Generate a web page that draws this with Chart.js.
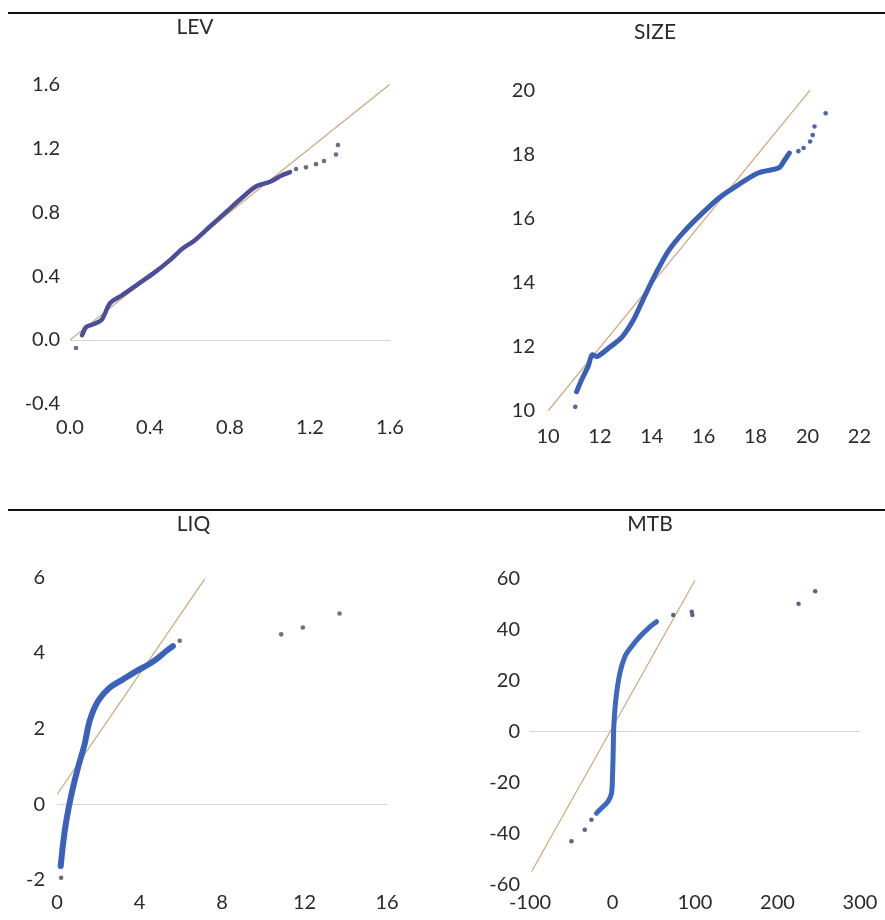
<!DOCTYPE html>
<html>
<head>
<meta charset="utf-8">
<script src="https://cdn.jsdelivr.net/npm/chart.js@4.4.1/dist/chart.umd.min.js"></script>
<style>
body { margin: 0; background: #fff; width: 885px; height: 920px; position: relative; overflow: hidden; }
.rule { position: absolute; left: 8px; width: 877px; height: 2px; background: #111; }
.panel { position: absolute; }
</style>
</head>
<body>
<div class="rule" style="top:12px"></div>
<div class="rule" style="top:509px"></div>
<div class="panel" style="left:0;top:15px;width:440px;height:445px"><canvas id="levChart"></canvas></div>
<div class="panel" style="left:440px;top:15px;width:445px;height:445px"><canvas id="sizeChart"></canvas></div>
<div class="panel" style="left:0;top:512px;width:440px;height:408px"><canvas id="liqChart"></canvas></div>
<div class="panel" style="left:440px;top:512px;width:445px;height:408px"><canvas id="mtbChart"></canvas></div>
<script>
// LEV
const levBodyX = [0.06, 0.08, 0.12, 0.16, 0.2, 0.26, 0.34, 0.42, 0.5, 0.56, 0.62, 0.7, 0.78, 0.86, 0.93, 1.0, 1.06, 1.1];
const levBodyY = [0.03, 0.08, 0.10, 0.13, 0.23, 0.28, 0.35, 0.42, 0.50, 0.57, 0.62, 0.71, 0.80, 0.89, 0.96, 0.99, 1.03, 1.05];
const levTailX = [0.03, 1.13, 1.18, 1.23, 1.27, 1.33, 1.34];
const levTailY = [-0.05, 1.07, 1.08, 1.10, 1.12, 1.16, 1.22];
const levRefX = [0, 1.6];
const levRefY = [0, 1.6];
const levXTicks = [0, 0.4, 0.8, 1.2, 1.6];
const levYTicks = [-0.4, 0, 0.4, 0.8, 1.2, 1.6];

// SIZE
const sizeBodyX = [11.1, 11.3, 11.55, 11.7, 11.9, 12.4, 12.85, 13.3, 13.65, 14.15, 14.65, 15.25, 15.9, 16.6, 17.35, 18.1, 18.9, 19.1, 19.3];
const sizeBodyY = [10.6, 10.98, 11.4, 11.75, 11.7, 12.0, 12.3, 12.85, 13.45, 14.28, 15.0, 15.6, 16.13, 16.65, 17.06, 17.42, 17.58, 17.8, 18.04];
const sizeTailX = [11.05, 19.65, 19.85, 20.1, 20.2, 20.27, 20.7];
const sizeTailY = [10.13, 18.1, 18.2, 18.4, 18.6, 18.87, 19.28];
const sizeRefX = [10, 20.2];
const sizeRefY = [10, 20.1];
const sizeXTicks = [10, 12, 14, 16, 18, 20, 22];
const sizeYTicks = [10, 12, 14, 16, 18, 20];

// LIQ
const liqBodyX = [0.18, 0.29, 0.45, 0.7, 1.02, 1.34, 1.58, 1.99, 2.55, 3.2, 3.85, 4.33, 4.81, 5.3, 5.62];
const liqBodyY = [-1.63, -1.06, -0.44, 0.26, 0.97, 1.59, 2.2, 2.73, 3.08, 3.3, 3.52, 3.66, 3.83, 4.05, 4.18];
const liqTailX = [0.2, 5.95, 10.87, 11.92, 13.7];
const liqTailY = [-1.94, 4.32, 4.49, 4.67, 5.04];
const liqRefX = [0, 7.16];
const liqRefY = [0.26, 5.95];
const liqXTicks = [0, 4, 8, 12, 16];
const liqYTicks = [-2, 0, 2, 4, 6];

// MTB
const mtbBodyX = [-19.4, -11.3, -5.3, -1.2, 0, 0.8, 1.6, 4, 8.9, 15, 23, 33, 45.3, 53.4];
const mtbBodyY = [-31.9, -29.3, -27.3, -24.1, -17.6, -8.5, 2, 12.4, 22.8, 29.3, 33.2, 37.1, 41, 43];
const mtbTailX = [-49.8, -33.6, -25.5, 73.7, 96, 96.8, 225.5, 245.7];
const mtbTailY = [-42.9, -38.4, -34.5, 45.6, 46.9, 45.6, 50, 54.9];
const mtbRefX = [-98, 100];
const mtbRefY = [-54.7, 59.2];
const mtbXTicks = [-100, 0, 100, 200, 300];
const mtbYTicks = [-60, -40, -20, 0, 20, 40, 60];

const tickFont = { family: 'Lato', size: 20 };
const refColor = 'rgba(196, 150, 95, 0.85)';

function pairs(xs, ys) {
    return xs.map((x, i) => ({ x: x, y: ys[i] }));
}

function qqChart(id, o) {
    return new Chart(document.getElementById(id), {
        type: 'scatter',
        data: {
            datasets: [
                { data: pairs(o.refX, o.refY), showLine: true, borderColor: refColor, borderWidth: 1.2, pointRadius: 0, order: 3 },
                { data: pairs(o.bodyX, o.bodyY), showLine: true, borderColor: o.color, borderWidth: o.width, pointRadius: 0,
                  tension: 0.3, borderCapStyle: 'round', borderJoinStyle: 'round', order: 2 },
                { data: pairs(o.tailX, o.tailY), pointRadius: 2.3, backgroundColor: o.tailColor, borderWidth: 0, order: 1 }
            ]
        },
        options: {
            responsive: true,
            maintainAspectRatio: false,
            animation: false,
            layout: { padding: { left: 0, right: o.padRight, top: 0, bottom: 0 } },
            plugins: {
                legend: { display: false },
                tooltip: { enabled: false },
                title: {
                    display: true, text: o.title, color: '#2a2a2a',
                    font: { family: 'Lato', size: 21, weight: 'normal' },
                    padding: { top: o.titleTop, bottom: o.titleBottom }
                }
            },
            scales: {
                x: {
                    type: 'linear', min: o.xTicks[0], max: o.xTicks[o.xTicks.length - 1],
                    afterBuildTicks: s => { s.ticks = o.xTicks.map(v => ({ value: v })); },
                    afterFit: s => { s.height = o.xAxisH; },
                    grid: { display: false, drawTicks: false },
                    border: { display: false },
                    ticks: { padding: o.xPad, color: '#2a2a2a', font: tickFont, maxRotation: 0,
                             callback: v => v.toFixed(o.decimals) }
                },
                y: {
                    type: 'linear', min: o.yTicks[0], max: o.yTicks[o.yTicks.length - 1],
                    afterBuildTicks: s => { s.ticks = o.yTicks.map(v => ({ value: v })); },
                    afterFit: s => { s.width = o.yAxisW; },
                    grid: { drawTicks: false, color: c => c.tick && c.tick.value === 0 ? '#d4d4d4' : 'rgba(0,0,0,0)' },
                    border: { display: false },
                    ticks: { padding: o.yPad, color: '#2a2a2a', font: tickFont,
                             callback: v => v.toFixed(o.decimals) }
                }
            }
        }
    });
}

qqChart('levChart', {
    title: 'LEV', bodyX: levBodyX, bodyY: levBodyY, tailX: levTailX, tailY: levTailY,
    refX: levRefX, refY: levRefY, xTicks: levXTicks, yTicks: levYTicks, decimals: 1,
    color: '#4a4f98', width: 4.5, tailColor: '#6a6d86',
    titleTop: 0, titleBottom: 44, xAxisH: 56, xPad: 12, yAxisW: 70, yPad: 10, padRight: 50
});

qqChart('sizeChart', {
    title: 'SIZE', bodyX: sizeBodyX, bodyY: sizeBodyY, tailX: sizeTailX, tailY: sizeTailY,
    refX: sizeRefX, refY: sizeRefY, xTicks: sizeXTicks, yTicks: sizeYTicks, decimals: 0,
    color: '#3a5fb6', width: 5, tailColor: '#4a66b0',
    titleTop: 5, titleBottom: 45, xAxisH: 49, xPad: 14, yAxisW: 108, yPad: 13, padRight: 15
});

qqChart('liqChart', {
    title: 'LIQ', bodyX: liqBodyX, bodyY: liqBodyY, tailX: liqTailX, tailY: liqTailY,
    refX: liqRefX, refY: liqRefY, xTicks: liqXTicks, yTicks: liqYTicks, decimals: 0,
    color: '#3a62ba', width: 6, tailColor: '#70707a',
    titleTop: 0, titleBottom: 40, xAxisH: 40, xPad: 11, yAxisW: 57, yPad: 12, padRight: 53
});

qqChart('mtbChart', {
    title: 'MTB', bodyX: mtbBodyX, bodyY: mtbBodyY, tailX: mtbTailX, tailY: mtbTailY,
    refX: mtbRefX, refY: mtbRefY, xTicks: mtbXTicks, yTicks: mtbYTicks, decimals: 0,
    color: '#3d68c0', width: 5, tailColor: '#5a6488',
    titleTop: 0, titleBottom: 41, xAxisH: 35, xPad: 6, yAxisW: 90, yPad: 10, padRight: 25
});
</script>
</body>
</html>
